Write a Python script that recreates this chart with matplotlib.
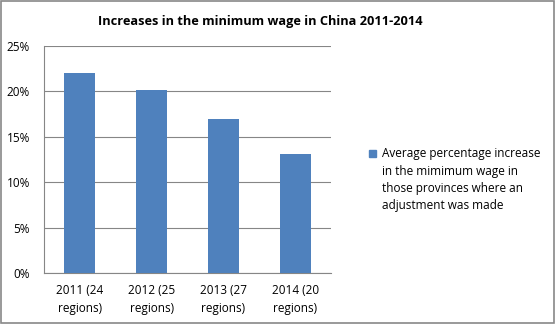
import numpy as np
import matplotlib.pyplot as plt
from matplotlib.patches import Rectangle
from matplotlib.ticker import FuncFormatter

# minimum wage increases by year
years = ["2011 (24\nregions)", "2012 (25\nregions)", "2013 (27\nregions)", "2014 (20\nregions)"]
increase = [22.0, 20.2, 17.0, 13.1]
series_name = ("Average percentage increase\nin the mimimum wage in\n"
               "those provinces where an\nadjustment was made")

bar_color = "#4F81BD"
grid_color = "#868686"
plt.rcParams['font.family'] = ['Open Sans', 'DejaVu Sans']

fig = plt.figure(figsize=(5.55, 3.24), dpi=100)
ax = fig.add_axes([44/555, 51/324, 287/555, 227/324])

x = np.arange(len(years))
ax.bar(x, increase, width=0.435, color=bar_color, zorder=3)

ax.set_xlim(-0.5, len(years) - 0.5)
ax.set_ylim(0, 25)
ax.set_yticks(np.arange(0, 26, 5))
ax.yaxis.set_major_formatter(FuncFormatter(lambda v, p: f"{v:.0f}%"))
ax.grid(axis="y", color=grid_color, linewidth=0.8, zorder=0)
ax.set_xticks(x)
ax.set_xticklabels(years, fontsize=8.5, linespacing=1.45)
ax.tick_params(axis="y", labelsize=8.5, length=0, pad=10)
ax.tick_params(axis="x", length=0, pad=8)

for side in ["top", "right"]:
    ax.spines[side].set_visible(False)
for side in ["left", "bottom"]:
    ax.spines[side].set_color(grid_color)
    ax.spines[side].set_linewidth(0.8)

fig.text(260/555, 0.934, "Increases in the minimum wage in China 2011-2014",
         ha="center", va="center", fontsize=9.2, fontweight="bold")

# legend drawn by hand, one entry
fig.patches.append(Rectangle((369/555, (324-157)/324), 7/555, 7/324,
                             transform=fig.transFigure, color=bar_color))
fig.text(382/555, (324-147)/324, series_name, ha="left", va="top",
         fontsize=8.5, linespacing=1.45)

# outer chart border
fig.patches.append(Rectangle((0.001, 0.002), 0.997, 0.995, transform=fig.transFigure,
                             fill=False, edgecolor="#888888", linewidth=1.2))

fig.savefig("out.png", dpi=100)
